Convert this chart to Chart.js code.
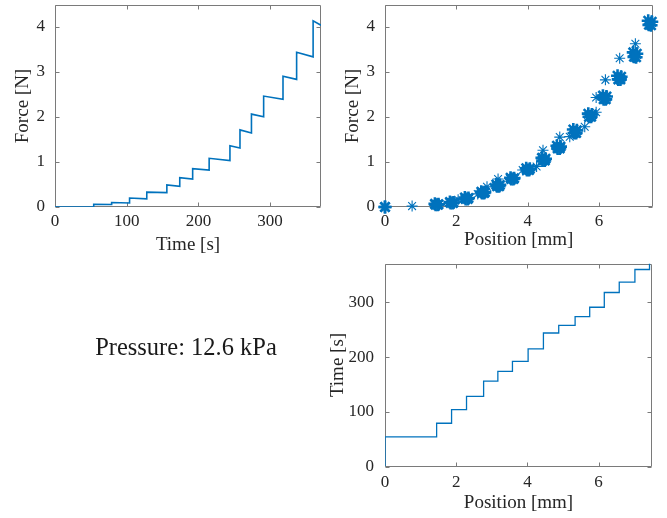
<!DOCTYPE html>
<html>
<head>
<meta charset="utf-8">
<script src="https://cdn.jsdelivr.net/npm/chart.js@4"></script>
<style>
  body { margin: 0; background: #fff; }
  #wrap { position: relative; width: 667px; height: 518px; overflow: hidden; }
  canvas { position: absolute; }
  #label { position: absolute; left: 0; width: 372px; top: 333px; text-align: center;
           font-family: 'Liberation Serif', serif; font-size: 24.5px; color: #1a1a1a; }
</style>
</head>
<body>
<div id="wrap">
  <canvas id="ft" width="330" height="260" style="left:0;top:0"></canvas>
  <canvas id="fp" width="337" height="260" style="left:330px;top:0"></canvas>
  <canvas id="tp" width="357" height="263" style="left:310px;top:255px"></canvas>
  <div id="label">Pressure: 12.6 kPa</div>
</div>
<script>
// step times [s], force right after each step and at the end of each hold [N]
var stepTime = [54, 79, 104, 128, 156, 174, 192, 215, 244, 258, 274, 291, 318, 337, 360];
var peakForce = [0.06, 0.10, 0.20, 0.33, 0.49, 0.65, 0.85, 1.08, 1.36, 1.71, 2.06, 2.46, 2.90, 3.43, 4.13];
var endForce = [0.055, 0.09, 0.18, 0.32, 0.46, 0.62, 0.82, 1.03, 1.31, 1.64, 2.00, 2.39, 2.83, 3.33, 4.03];
var stepPos = [1.45, 1.87, 2.29, 2.77, 3.17, 3.58, 4.02, 4.45, 4.88, 5.34, 5.75, 6.16, 6.58, 7.02, 7.43];
var endTime = 371;

// samples taken during the holds (dense clusters)
var holdPos = [0, 0,
  1.40, 1.50, 1.42, 1.48,  1.82, 1.92, 1.84, 1.90,  2.24, 2.34, 2.26, 2.32,
  2.70, 2.80, 2.72, 2.78,  3.12, 3.22, 3.14, 3.20,  3.52, 3.62, 3.54, 3.60,
  3.96, 4.06, 3.98, 4.04,  4.40, 4.50, 4.42, 4.48,  4.82, 4.92, 4.84, 4.90,
  5.28, 5.38, 5.30, 5.36,  5.70, 5.80, 5.72, 5.78,  6.11, 6.21, 6.13, 6.19,
  6.52, 6.62, 6.54, 6.60,  6.96, 7.06, 6.98, 7.04,  7.38, 7.48, 7.40, 7.46];
var holdForce = [0, 0,
  0.07, 0.06, 0.05, 0.05,  0.11, 0.10, 0.09, 0.09,  0.21, 0.20, 0.18, 0.18,
  0.34, 0.33, 0.31, 0.31,  0.50, 0.49, 0.46, 0.46,  0.65, 0.64, 0.62, 0.62,
  0.86, 0.85, 0.82, 0.82,  1.09, 1.07, 1.03, 1.03,  1.36, 1.34, 1.30, 1.30,
  1.72, 1.70, 1.64, 1.64,  2.07, 2.05, 2.00, 2.00,  2.47, 2.45, 2.39, 2.39,
  2.91, 2.89, 2.83, 2.83,  3.43, 3.40, 3.33, 3.32,  4.13, 4.11, 4.04, 4.03];

// samples taken while moving between holds
var movePos = [0.76, 2.05, 2.60, 2.86, 3.17, 3.86, 4.25, 4.43, 4.90, 5.18, 5.60, 5.92, 5.92, 6.18, 6.58, 7.02];
var moveForce = [0.02, 0.16, 0.29, 0.45, 0.62, 0.82, 0.90, 1.26, 1.55, 1.56, 1.78, 2.10, 2.43, 2.82, 3.30, 3.62];

var blue = '#0072BD';
var serif = "'Liberation Serif', 'Times New Roman', serif";
Chart.defaults.font.family = serif;
Chart.defaults.color = '#262626';

var forceTime = [{x: 0, y: 0}];
var prev = 0;
for (var i = 0; i < stepTime.length; i++) {
  var next = i + 1 < stepTime.length ? stepTime[i + 1] : endTime;
  forceTime.push({x: stepTime[i], y: prev});
  forceTime.push({x: stepTime[i], y: peakForce[i]});
  forceTime.push({x: next, y: endForce[i]});
  prev = endForce[i];
}

var timePos = [{x: 0, y: 0}, {x: 0, y: stepTime[0]}];
for (var i = 0; i < stepTime.length; i++) {
  var next = i + 1 < stepTime.length ? stepTime[i + 1] : endTime;
  timePos.push({x: stepPos[i], y: stepTime[i]});
  timePos.push({x: stepPos[i], y: next});
}

var holdPts = holdPos.map(function (p, i) { return {x: p, y: holdForce[i]}; });
var movePts = movePos.map(function (p, i) { return {x: p, y: moveForce[i]}; });

// matlab style box with inward ticks on all sides
var boxPlugin = {
  id: 'box',
  beforeDatasetsDraw: function (chart) {
    var ctx = chart.ctx, a = chart.chartArea, sx = chart.scales.x, sy = chart.scales.y;
    var L = Math.round(a.left) + 0.5, R = Math.round(a.right) - 0.5;
    var T = Math.round(a.top) + 0.5, B = Math.round(a.bottom) - 0.5;
    ctx.save();
    ctx.strokeStyle = '#7a7a7a';
    ctx.lineWidth = 1;
    ctx.beginPath();
    ctx.rect(L, T, R - L, B - T);
    sx.ticks.forEach(function (t) {
      var px = Math.round(sx.getPixelForValue(t.value)) + 0.5;
      ctx.moveTo(px, B); ctx.lineTo(px, B - 4);
      ctx.moveTo(px, T); ctx.lineTo(px, T + 4);
    });
    sy.ticks.forEach(function (t) {
      var py = Math.round(sy.getPixelForValue(t.value)) + 0.5;
      ctx.moveTo(L, py); ctx.lineTo(L + 4, py);
      ctx.moveTo(R, py); ctx.lineTo(R - 4, py);
    });
    ctx.stroke();
    ctx.restore();
  }
};

function axis(min, max, step, title, size, tickPad, titlePad) {
  return {
    type: 'linear', min: min, max: max,
    grid: { display: false, drawTicks: false }, border: { display: false },
    ticks: { stepSize: step, includeBounds: false, padding: tickPad, font: { size: 17 }, color: '#262626' },
    title: { display: true, text: title, font: { size: 19 }, color: '#262626', padding: titlePad },
    afterFit: function (s) {
      if (s.isHorizontal()) s.height = size; else s.width = size;
      s.paddingTop = 0; s.paddingBottom = 0; s.paddingLeft = 0; s.paddingRight = 0;
    }
  };
}

function make(id, datasets, x, y, pad) {
  return new Chart(document.getElementById(id), {
    type: 'scatter',
    data: { datasets: datasets },
    options: {
      responsive: false, animation: false, devicePixelRatio: 1,
      layout: { padding: pad, autoPadding: false },
      plugins: { legend: { display: false }, tooltip: { enabled: false } },
      scales: { x: x, y: y }
    },
    plugins: [boxPlugin]
  });
}

make('ft',
  [{ data: forceTime, showLine: true, borderColor: blue, borderWidth: 1.6, pointRadius: 0 }],
  axis(0, endTime, 100, 'Time [s]', 53, 4, { top: 0, bottom: 4 }),
  axis(0, 4.48, 1, 'Force [N]', 55, 10, { top: 12, bottom: 0 }),
  { left: 0, right: 9, top: 5, bottom: 0 });

make('fp',
  [{ data: holdPts, pointStyle: 'star', pointRadius: 6.5, borderColor: blue, borderWidth: 2.6, clip: false },
   { data: movePts, pointStyle: 'star', pointRadius: 5.5, borderColor: blue, borderWidth: 1.1, clip: false }],
  axis(0, 7.5, 2, 'Position [mm]', 53, 4, { top: 0, bottom: 9 }),
  axis(0, 4.48, 1, 'Force [N]', 55, 10, { top: 12, bottom: 0 }),
  { left: 0, right: 14.5, top: 5, bottom: 0 });

make('tp',
  [{ data: timePos, showLine: true, borderColor: blue, borderWidth: 1.3, pointRadius: 0 }],
  axis(0, 7.5, 2, 'Position [mm]', 51.5, 6, { top: 0, bottom: 4 }),
  axis(0, endTime, 100, 'Time [s]', 75, 11, { top: 17, bottom: 0 }),
  { left: 0, right: 15, top: 8.5, bottom: 0 });
</script>
</body>
</html>
